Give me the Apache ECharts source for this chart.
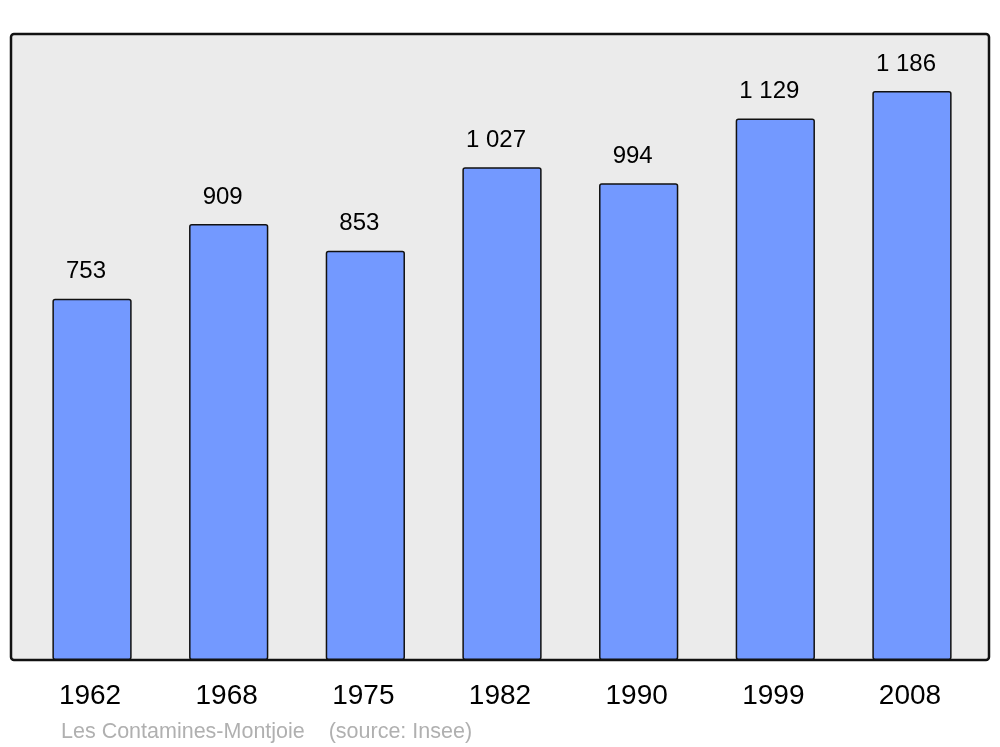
<!DOCTYPE html>
<html>
<head>
<meta charset="utf-8">
<script src="https://cdn.jsdelivr.net/npm/echarts@6/dist/echarts.min.js"></script>
<style>
  html, body { margin: 0; padding: 0; background: #fff; }
  #chart { width: 1000px; height: 747px; }
</style>
</head>
<body>
<div id="chart"></div>
<script>
// population par année
var years = ["1962", "1968", "1975", "1982", "1990", "1999", "2008"];
var population = [753, 909, 853, 1027, 994, 1129, 1186];
var footer = "Les Contamines-Montjoie    (source: Insee)";

function fmt(v) {
  // séparateur de milliers : espace
  return String(v).replace(/\B(?=(\d{3})+(?!\d))/g, " ");
}

var chart = echarts.init(document.getElementById("chart"));
chart.setOption({
  backgroundColor: "#ffffff",
  animation: false,
  textStyle: { fontFamily: "Liberation Sans" },
  title: {
    text: footer,
    left: 56,
    top: 716,
    textStyle: {
      color: "#b0b0b0",
      fontSize: 21.5,
      fontWeight: "normal",
      fontFamily: "Liberation Sans"
    }
  },
  graphic: [
    {
      type: "rect",
      z: -10,
      silent: true,
      shape: { x: 11, y: 34, width: 978, height: 626, r: 3 },
      style: { fill: "#ebebeb", stroke: "#111111", lineWidth: 2.5 }
    }
  ],
  grid: {
    left: 23.7,
    right: 19.7,
    top: 34,
    bottom: 87
  },
  xAxis: {
    type: "category",
    data: years,
    axisLine: { show: false },
    axisTick: { show: false },
    axisLabel: {
      margin: 22,
      color: "#000",
      fontSize: 28,
      fontFamily: "Liberation Sans",
      padding: [0, 4, 0, 0]
    }
  },
  yAxis: {
    type: "value",
    min: 0,
    max: 1305,
    show: false,
    splitLine: { show: false }
  },
  series: [
    {
      type: "bar",
      data: population,
      barWidth: "58%",
      itemStyle: {
        color: "#7399ff",
        borderColor: "#111111",
        borderWidth: 1.5,
        borderRadius: 2
      },
      label: {
        show: true,
        position: "top",
        distance: 15,
        offset: [-6, 0],
        color: "#000",
        fontSize: 24,
        fontFamily: "Liberation Sans",
        formatter: function (p) { return fmt(p.value); }
      }
    }
  ]
});
</script>
</body>
</html>
